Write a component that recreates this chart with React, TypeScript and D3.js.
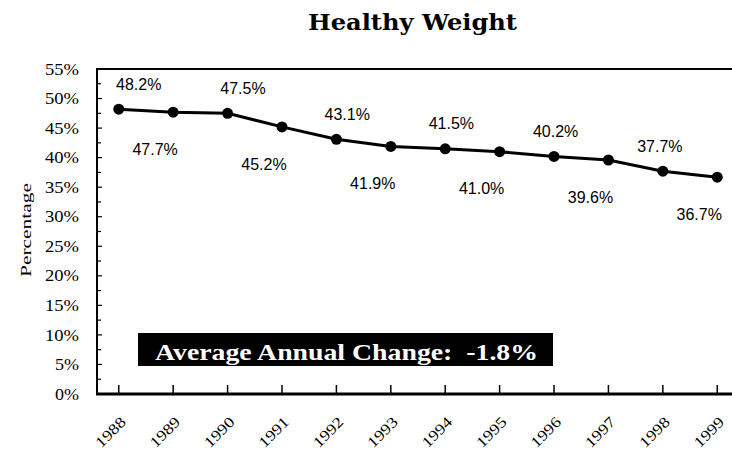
import React from "react";
import * as d3 from "d3";

const years = ["1988","1989","1990","1991","1992","1993","1994","1995","1996","1997","1998","1999"];
const values = [48.2, 47.7, 47.5, 45.2, 43.1, 41.9, 41.5, 41.0, 40.2, 39.6, 37.7, 36.7];
const yTicks = [0, 5, 10, 15, 20, 25, 30, 35, 40, 45, 50, 55];
const title = "Healthy Weight";
const yTitle = "Percentage";
const boxText = "Average Annual Change:  -1.8%";

const W = 732, H = 453;
const left = 97, top = 69, bottom = 394, rightEdge = 739;

export default function App() {
  const x = d3.scalePoint<string>().domain(years).range([left, rightEdge]).padding(0.4);
  const y = d3.scaleLinear().domain([0, 55]).range([bottom, top]);
  const line = d3.line<number>().x((_, i) => x(years[i])!).y(d => y(d));
  const minor = d3.range(2.5, 55, 5);

  return (
    <svg width={W} height={H} style={{ position: "absolute", left: 0, top: 0, background: "#fff" }}>
      <rect x={0} y={0} width={W} height={H} fill="#fff" />
      <text x={412.5} y={30} textAnchor="middle" fontFamily="DejaVu Serif" fontWeight="bold" fontSize={22}
        textLength={209} lengthAdjust="spacingAndGlyphs">{title}</text>

      {/* frame */}
      <line x1={left} x2={W} y1={top} y2={top} stroke="#000" strokeWidth={2} />
      <line x1={left} x2={left} y1={top - 1} y2={bottom + 1} stroke="#000" strokeWidth={2} />
      <line x1={left - 1} x2={W} y1={bottom} y2={bottom} stroke="#000" strokeWidth={3} />

      {/* y ticks */}
      {yTicks.map(t => (
        <g key={"yt" + t}>
          <line x1={left} x2={left + 5} y1={y(t)} y2={y(t)} stroke="#000" strokeWidth={1.2} />
          <text x={79} y={y(t)} dy="0.35em" textAnchor="end" fontFamily="'Liberation Serif', serif" fontSize={16}
            textLength={t < 10 ? 24 : 34} lengthAdjust="spacingAndGlyphs">{t + "%"}</text>
        </g>
      ))}
      {minor.map(t => (
        <line key={"ym" + t} x1={left} x2={left + 4} y1={y(t)} y2={y(t)} stroke="#000" strokeWidth={1.2} />
      ))}
      <text transform={`translate(31,230) rotate(-90)`} textAnchor="middle" fontFamily="'Liberation Serif', serif" fontSize={15}
        textLength={94} lengthAdjust="spacingAndGlyphs">{yTitle}</text>

      {/* x ticks */}
      {years.map(yr => (
        <g key={"xt" + yr}>
          <line x1={x(yr)} x2={x(yr)} y1={bottom - 9} y2={bottom} stroke="#000" strokeWidth={1.5} />
          <text transform={`translate(${x(yr)! + 8},423) rotate(-45)`} textAnchor="end" fontFamily="'Liberation Serif', serif"
            fontSize={15} textLength={36} lengthAdjust="spacingAndGlyphs">{yr}</text>
        </g>
      ))}

      {/* series */}
      <path d={line(values) || ""} fill="none" stroke="#000" strokeWidth={3} />
      {values.map((v, i) => (
        <circle key={"c" + i} cx={x(years[i])} cy={y(v)} r={5.5} fill="#000" />
      ))}
      {values.map((v, i) => {
        const above = i % 2 === 0;
        const dx = above ? 20 - 2.3 * i : -18;
        const dy = above ? -25 : 37;
        return (
          <text key={"l" + i} x={x(years[i])! + dx} y={y(v) + dy} dy="0.35em" textAnchor="middle"
            fontFamily="Liberation Sans" fontSize={16}>{v.toFixed(1) + "%"}</text>
        );
      })}

      {/* annotation box */}
      <rect x={138} y={333} width={415} height={33} fill="#000" />
      <text x={155} y={360} fill="#fff" fontFamily="'Liberation Serif', serif" fontWeight="bold" fontSize={23}
        style={{ whiteSpace: "pre" }} textLength={383} lengthAdjust="spacingAndGlyphs">{boxText}</text>
    </svg>
  );
}
